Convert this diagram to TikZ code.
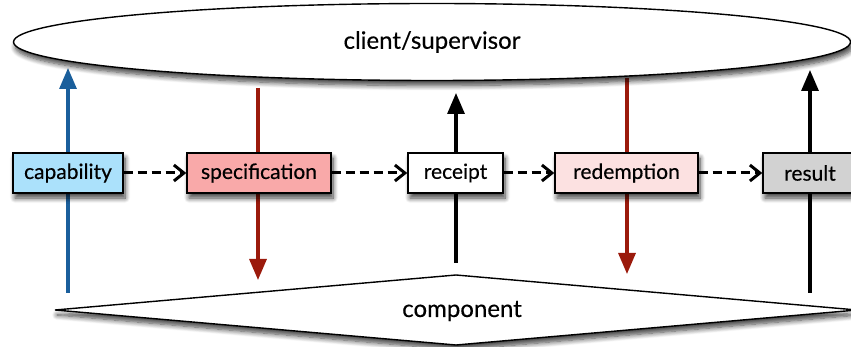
\documentclass[tikz,border=0pt]{standalone}
\usepackage{fontspec}
\setmainfont{Lato}[FakeBold=0.35]
\usetikzlibrary{shapes.geometric,arrows.meta,shadows.blur}
\pgfdeclarelayer{background}
\pgfsetlayers{background,main}

\definecolor{capblue}{HTML}{ABE1FB}
\definecolor{specred}{HTML}{F9A9A9}
\definecolor{redempink}{HTML}{FCE1E1}
\definecolor{resultgray}{HTML}{D2D2D2}
\definecolor{upblue}{HTML}{1A5F9C}
\definecolor{downred}{HTML}{9B1A0C}

\tikzset{
  shade/.style={blur shadow={shadow xshift=2pt, shadow yshift=-5pt, shadow blur steps=8, shadow blur radius=5pt, shadow opacity=75}},
  stage/.style={draw=black, line width=1.4pt, minimum height=40pt, inner sep=0pt, font=\fontsize{21}{24}\selectfont, shade},
  flow/.style={line width=3pt, dash pattern=on 9pt off 5pt, -{Straight Barb[length=10pt,width=16pt,line width=3pt]}},
  updown/.style={line width=3.2pt, -{Triangle[length=21pt,width=17pt]}},
  bigshape/.style={draw, line width=1.4pt, fill=white, shade}
}

\begin{document}
\begin{tikzpicture}[x=1pt,y=-1pt]
  \useasboundingbox (0,0) rectangle (851,347);

  % supervisor on top
  \node[ellipse, bigshape, minimum width=837pt, minimum height=77pt, inner sep=0pt,
        font=\fontsize{24}{28}\selectfont] (sup) at (432,42) {client/supervisor};

  % component at the bottom: a wide flat diamond
  \coordinate (compW) at (55,310);
  \coordinate (compN) at (456,275);
  \coordinate (compE) at (857,310);
  \coordinate (compS) at (456,345);
  \path[bigshape] (compW) -- (compN) -- (compE) -- (compS) -- cycle;
  \node[font=\fontsize{24}{28}\selectfont] (comp) at (462,311) {component};

  % the chain of stages
  \node[stage, fill=capblue,    minimum width=110pt] (cap)  at (68,173)    {capability};
  \node[stage, fill=specred,    minimum width=144pt] (spec) at (259,173)   {specification};
  \node[stage, fill=white,      minimum width=95pt]  (rec)  at (455.5,173) {receipt};
  \node[stage, fill=redempink,  minimum width=143pt] (red)  at (626.5,173) {redemption};
  \node[stage, fill=resultgray, minimum width=94pt]  (res)  at (810,173)   {result};

  \draw[flow] (cap) -- (spec);
  \draw[flow] (spec) -- (rec);
  \draw[flow] (rec) -- (red);
  \draw[flow] (red) -- (res);

  % free ends of the vertical exchanges
  \coordinate (capLow)  at (68,293);   \coordinate (capHigh)  at (68,68);
  \coordinate (specHigh) at (258,88);  \coordinate (specLow)  at (258,280);
  \coordinate (recLow)  at (456,263);  \coordinate (recHigh)  at (456,93);
  \coordinate (redHigh) at (627,78);   \coordinate (redLow)   at (627,274);
  \coordinate (resLow)  at (810,293);  \coordinate (resHigh)  at (810,70);

  \begin{pgfonlayer}{background}
    \draw[updown, upblue]  (capLow)  -- (capHigh);
    \draw[updown, downred] (specHigh) -- (specLow);
    \draw[updown, black]   (recLow)  -- (recHigh);
    \draw[updown, downred] (redHigh) -- (redLow);
    \draw[updown, black]   (resLow)  -- (resHigh);
  \end{pgfonlayer}
\end{tikzpicture}
\end{document}
